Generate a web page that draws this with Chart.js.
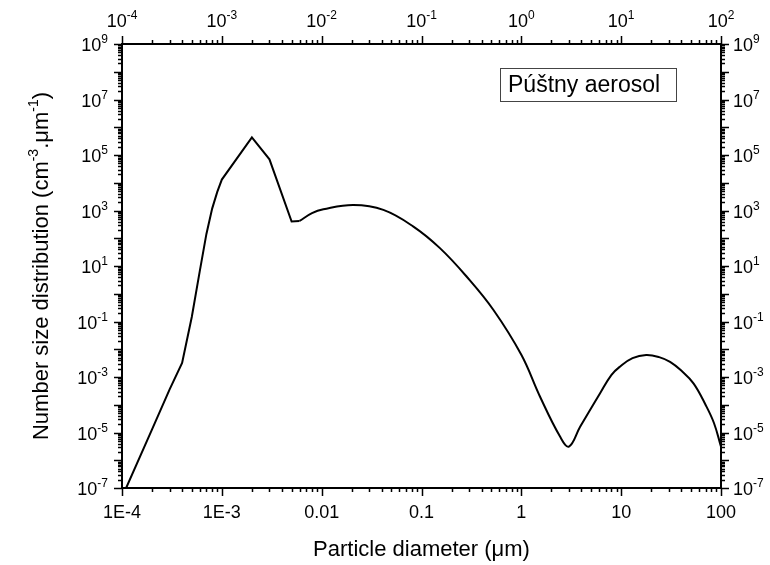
<!DOCTYPE html>
<html>
<head>
<meta charset="utf-8">
<script src="https://cdn.jsdelivr.net/npm/chart.js@4.4.0/dist/chart.umd.min.js"></script>
<style>
  html, body { margin: 0; padding: 0; background: #fff; }
</style>
</head>
<body>
<canvas id="chart" width="770" height="565"></canvas>
<script>
"use strict";
// particle diameter (um) vs number size distribution (cm-3.um-1)
// nucleation part drawn with straight segments, the rest smoothed
var sharpDiam = [1.1e-4, 2e-4, 3e-4, 4e-4, 5e-4, 6e-4, 7e-4, 8e-4, 9e-4, 1e-3, 2e-3, 3e-3, 5e-3, 6e-3];
var sharpN = [1e-7, 1.3e-5, 3.6e-4, 3.2e-3, 0.145, 6.3, 140, 1170, 4700, 1.3e4, 4.3e5, 7e4, 400, 420];
var smoothDiam = [6e-3, 8e-3, 0.0104, 0.0208, 0.0415, 0.083, 0.153, 0.284, 0.526, 1.0, 1.54, 2.45, 3.0,
  3.88, 6.15, 8, 9.77, 13, 17.8, 24, 30.9, 40, 53, 70, 85, 100];
var smoothN = [420, 800, 1100, 1580, 1050, 263, 44, 4.1, 0.26, 6.3e-3, 1.95e-4, 7e-6, 3.1e-6,
  1.6e-5, 2.6e-4, 1.2e-3, 2.4e-3, 4.8e-3, 6.2e-3, 5.2e-3, 3.5e-3, 1.7e-3, 5.9e-4, 1e-4, 2.2e-5, 3.1e-6];

var xDecades = [1e-4, 1e-3, 1e-2, 1e-1, 1, 10, 100];
var xTickLabels = ["1E-4", "1E-3", "0.01", "0.1", "1", "10", "100"];
var xTopExp = [-4, -3, -2, -1, 0, 1, 2];
var yLabelExp = [9, 7, 5, 3, 1, -1, -3, -5, -7];

var FONT = "Arial, 'Liberation Sans', sans-serif";

function toPoints(xs, ys) {
  return xs.map(function (x, i) { return { x: x, y: ys[i] }; });
}

function drawPow(ctx, exp, x, y, align) {
  ctx.font = "18px " + FONT;
  var wb = ctx.measureText("10").width;
  ctx.font = "12px " + FONT;
  var sup = String(exp);
  var ws = ctx.measureText(sup).width;
  var total = wb + ws;
  var x0 = x;
  if (align === "right") x0 = x - total;
  if (align === "center") x0 = x - total / 2;
  ctx.textAlign = "left";
  ctx.textBaseline = "alphabetic";
  ctx.font = "18px " + FONT;
  ctx.fillText("10", x0, y);
  ctx.font = "12px " + FONT;
  ctx.fillText(sup, x0 + wb, y - 8);
}

// log ticks: decades long, 2..9 short, all pointing out of the frame
function logTicks(min, max) {
  var out = [];
  for (var e = Math.round(Math.log10(min)); e <= Math.round(Math.log10(max)); e++) {
    for (var k = 1; k <= 9; k++) {
      var v = k * Math.pow(10, e);
      if (v > max * 1.0001) break;
      out.push({ v: v, major: k === 1 });
    }
  }
  return out;
}

var framePlugin = {
  id: "frame",
  afterDraw: function (chart) {
    var ctx = chart.ctx;
    var a = chart.chartArea;
    var sx = chart.scales.x, sy = chart.scales.y;
    ctx.save();
    ctx.strokeStyle = "#000";
    ctx.fillStyle = "#000";
    ctx.lineWidth = 1.5;
    ctx.beginPath();
    logTicks(1e-4, 100).forEach(function (t) {
      var px = Math.round(sx.getPixelForValue(t.v)) + 0.5;
      var len = t.major ? 8 : 4;
      ctx.moveTo(px, a.bottom); ctx.lineTo(px, a.bottom + len);
      ctx.moveTo(px, a.top); ctx.lineTo(px, a.top - len);
    });
    logTicks(1e-7, 1e9).forEach(function (t) {
      var py = Math.round(sy.getPixelForValue(t.v)) + 0.5;
      var len = t.major ? 8 : 4;
      ctx.moveTo(a.left, py); ctx.lineTo(a.left - len, py);
      ctx.moveTo(a.right, py); ctx.lineTo(a.right + len, py);
    });
    ctx.stroke();

    xTopExp.forEach(function (e) {
      drawPow(ctx, e, sx.getPixelForValue(Math.pow(10, e)), 27, "center");
    });
    yLabelExp.forEach(function (e) {
      var py = sy.getPixelForValue(Math.pow(10, e)) + 7;
      drawPow(ctx, e, a.left - 14, py, "right");
      drawPow(ctx, e, a.right + 12, py, "left");
    });

    // y axis title with superscripts, rotated
    var parts = [
      ["Number size distribution (cm", 22, 0],
      ["-3", 14, -10],
      [".\u03bcm", 22, 0],
      ["-1", 14, -10],
      [")", 22, 0]
    ];
    var total = 0;
    parts.forEach(function (p) {
      ctx.font = p[1] + "px " + FONT;
      p.push(ctx.measureText(p[0]).width);
      total += p[3];
    });
    ctx.translate(48, (a.top + a.bottom) / 2);
    ctx.rotate(-Math.PI / 2);
    ctx.textAlign = "left";
    ctx.textBaseline = "alphabetic";
    var cx = -total / 2;
    parts.forEach(function (p) {
      ctx.font = p[1] + "px " + FONT;
      ctx.fillText(p[0], cx, p[2]);
      cx += p[3];
    });
    ctx.setTransform(1, 0, 0, 1, 0, 0);

    // label box
    ctx.lineWidth = 1;
    ctx.strokeStyle = "#444";
    ctx.strokeRect(500.5, 68.5, 176, 33);
    ctx.font = "23px " + FONT;
    ctx.textAlign = "left";
    ctx.fillText("P\u00fa\u0161tny aerosol", 508, 92);
    ctx.restore();
  }
};

new Chart(document.getElementById("chart"), {
  type: "line",
  data: {
    datasets: [
      {
        data: toPoints(sharpDiam, sharpN),
        borderColor: "#000",
        borderWidth: 2,
        pointRadius: 0,
        tension: 0,
        fill: false,
      },
      {
        data: toPoints(smoothDiam, smoothN),
        borderColor: "#000",
        borderWidth: 2,
        pointRadius: 0,
        tension: 0.4,
        fill: false,
      },
    ],
  },
  options: {
    responsive: false,
    animation: false,
    layout: { padding: 0 },
    plugins: {
      legend: { display: false },
      tooltip: { enabled: false },
    },
    scales: {
      x: {
        type: "logarithmic",
        position: "bottom",
        min: 1e-4,
        max: 100,
        grid: { display: false, drawTicks: false },
        border: { display: true, color: "#000", width: 2 },
        afterBuildTicks: function (s) {
          s.ticks = xDecades.map(function (v) { return { value: v }; });
        },
        afterFit: function (s) { s.height = 77; },
        ticks: {
          autoSkip: false,
          maxRotation: 0,
          padding: 14,
          color: "#000",
          font: { family: FONT, size: 18 },
          callback: function (v, i) { return xTickLabels[i]; },
        },
        title: {
          display: true,
          text: "Particle diameter (\u03bcm)",
          color: "#000",
          font: { family: FONT, size: 22 },
          padding: { top: 0, bottom: 2 },
        },
      },
      x2: {
        type: "logarithmic",
        position: "top",
        min: 1e-4,
        max: 100,
        grid: { display: false, drawTicks: false },
        border: { display: true, color: "#000", width: 2 },
        ticks: { display: false },
        afterFit: function (s) { s.height = 44; },
      },
      y: {
        type: "logarithmic",
        position: "left",
        min: 1e-7,
        max: 1e9,
        grid: { display: false, drawTicks: false },
        border: { display: true, color: "#000", width: 2 },
        ticks: { display: false },
        afterFit: function (s) { s.width = 122; },
      },
      y2: {
        type: "logarithmic",
        position: "right",
        min: 1e-7,
        max: 1e9,
        grid: { display: false, drawTicks: false },
        border: { display: true, color: "#000", width: 2 },
        ticks: { display: false },
        afterFit: function (s) { s.width = 49; },
      },
    },
  },
  plugins: [framePlugin],
});
</script>
</body>
</html>
